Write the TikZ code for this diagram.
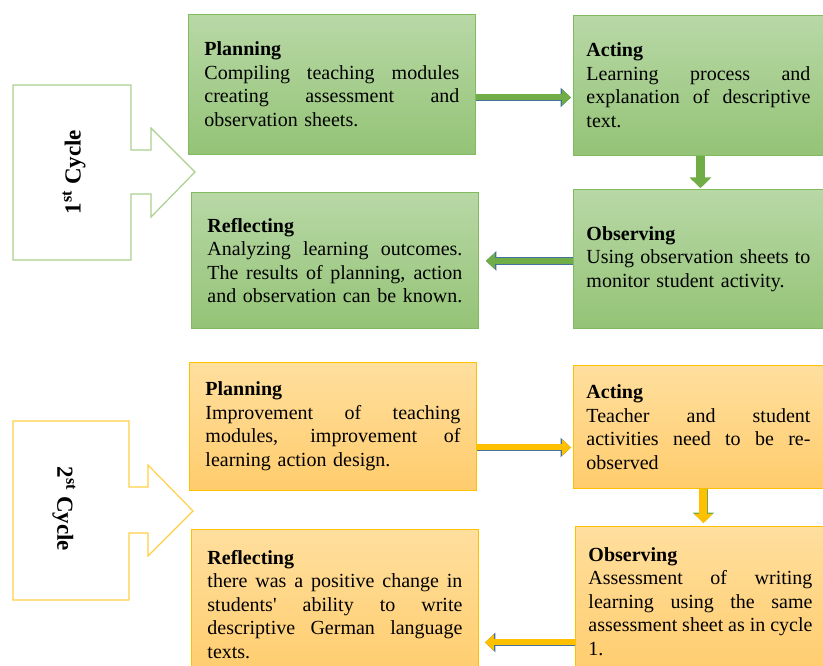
\documentclass[tikz,border=0pt]{standalone}
\usepackage{fontspec}
\setmainfont{Liberation Serif}
\definecolor{LeafGreen}{RGB}{112,173,71}
\definecolor{GreenTop}{RGB}{184,216,166}
\definecolor{GreenBot}{RGB}{148,195,118}
\definecolor{GreenLine}{RGB}{130,186,95}
\definecolor{PaleGreen}{RGB}{169,209,142}
\definecolor{Gold}{RGB}{255,192,0}
\definecolor{GoldTop}{RGB}{255,223,158}
\definecolor{GoldBot}{RGB}{255,204,108}
\definecolor{PaleGold}{RGB}{255,208,70}
\definecolor{SlateBlue}{RGB}{70,112,160}
\usetikzlibrary{arrows.meta, calc}
% stretched lines of a justified paragraph (left / right column)
\newcommand{\jl}[1]{\leavevmode\hbox to 255pt{\spaceskip=.25em plus 1fil minus .1em\relax #1}}
\newcommand{\jr}[1]{\leavevmode\hbox to 224pt{\spaceskip=.25em plus 1fil minus .1em\relax #1}}

\begin{document}
\begin{tikzpicture}[x=1pt, y=-1pt,
	bx/.style={anchor=north west, align=left, line width=0.9pt, inner ysep=0pt,
		font=\fontsize{20}{23.5}\selectfont},
	gbox/.style={bx, draw=GreenLine, top color=GreenTop, bottom color=GreenBot},
	ybox/.style={bx, draw=Gold, top color=GoldTop, bottom color=GoldBot},
	lt/.style={text width=255pt, inner xsep=16pt},
	rt/.style={text width=224pt, inner xsep=13pt},
	cyc/.style={fill=white, line width=1.2pt},
	lab/.style={font=\bfseries\fontsize{23}{26}\selectfont},
	fl/.style={-{Triangle[width=16pt, length=9pt]}, line width=6pt,
		preaction={draw=#1, line width=7.6pt, -{Triangle[width=19pt, length=10.5pt]}}},
	fd/.style={-{Triangle[width=18pt, length=9pt]}, line width=8pt,
		preaction={draw=#1, line width=9.6pt, -{Triangle[width=21pt, length=10.5pt]}}}]
	\path[use as bounding box, clip] (0,0) rectangle (823,666);
	% 1st cycle
	\draw[cyc, draw=PaleGreen] (13,85) -| (131,150) -- (151,150) -- (151,128) -- (195,172)
		-- (151,217) -- (151,194) -- (131,194) |- (13,260) -- cycle;
	\node[lab, rotate=90] (C1) at (74,172) {1\textsuperscript{st} Cycle};
	\node[gbox, lt, minimum height=140pt] (P1) at (188,14) {\textbf{Planning}\\
		\jl{Compiling teaching modules}\\ \jl{creating assessment and}\\ observation sheets.};
	\node[gbox, rt, minimum height=140pt] (A1) at (573,15) {\textbf{Acting}\\
		\jr{Learning process and}\\ \jr{explanation of descriptive}\\ text.};
	\node[gbox, rt, minimum height=139pt] (O1) at (573,189) {\textbf{Observing}\\
		\jr{Using observation sheets to}\\ monitor student activity.};
	\node[gbox, lt, minimum height=136pt] (R1) at (191,192) {\textbf{Reflecting}\\
		\jl{Analyzing learning outcomes.}\\ \jl{The results of planning, action}\\ and observation can be known.};
	\draw[fl=SlateBlue, LeafGreen, shorten >=2pt] ([yshift=-13pt]P1.east) -- ([yshift=-13pt]P1.east -| A1.west);
	\draw[fd=LeafGreen, LeafGreen, shorten >=1pt] ([xshift=2pt]A1.south) -- ([xshift=2pt]A1.south |- O1.north);
	\draw[fl=SlateBlue, LeafGreen, shorten >=7pt] ([yshift=-2pt]O1.west) -- ([yshift=-2pt]O1.west -| R1.east);
	% 2nd cycle
	\draw[cyc, draw=PaleGold] (13,421) -| (129,487) -- (148,487) -- (148,465) -- (193,511)
		-- (148,556) -- (148,533) -- (129,533) |- (13,600) -- cycle;
	\node[lab, rotate=-90] (C2) at (64,509) {2\textsuperscript{st} Cycle};
	\node[ybox, lt, minimum height=128pt] (P2) at (189,362) {\textbf{Planning}\\
		\jl{Improvement of teaching}\\ \jl{modules, improvement of}\\ learning action design.};
	\node[ybox, rt, minimum height=123pt] (A2) at (573,365) {\textbf{Acting}\\
		\jr{Teacher and student}\\ \jr{activities need to be re-}\\ observed};
	\node[ybox, rt, minimum height=150pt] (O2) at (575,526) {\textbf{Observing}\\
		\jr{Assessment of writing}\\ \jr{learning using the same}\\ \jr{assessment sheet as in cycle}\\ 1.};
	\node[ybox, lt, minimum height=150pt] (R2) at (191,529) {\textbf{Reflecting}\\
		\jl{there was a positive change in}\\ \jl{students\textquotesingle{} ability to write}\\ \jl{descriptive German language}\\ texts.};
	\draw[fl=SlateBlue, Gold, shorten >=2pt] ([yshift=-21pt]P2.east) -- ([yshift=-21pt]P2.east -| A2.west);
	\draw[fd=LeafGreen, Gold, shorten >=3pt] ([xshift=5pt]A2.south) -- ([xshift=5pt]A2.south |- O2.north);
	\draw[fl=SlateBlue, Gold, shorten >=6pt] ([yshift=-41pt]O2.west) -- ([yshift=-41pt]O2.west -| R2.east);
\end{tikzpicture}
\end{document}
